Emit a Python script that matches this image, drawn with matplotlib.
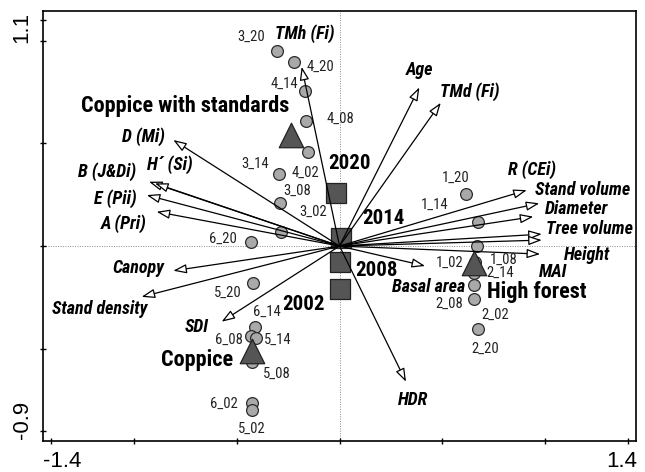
import matplotlib.pyplot as plt
import matplotlib.transforms as mtransforms

# site scores (stand_year)
site_names = ['3_20', '4_20', '4_14', '4_08', '4_02', '3_14', '3_08', '3_02',
              '6_20', '5_20', '6_14', '6_08', '5_14', '5_08', '6_02', '5_02',
              '1_20', '1_14', '1_08', '1_02', '2_14', '2_02', '2_08', '2_20']
site_x = [-0.305, -0.221, -0.168, -0.163, -0.152, -0.293, -0.289, -0.286,
          -0.432, -0.419, -0.411, -0.432, -0.406, -0.427, -0.427, -0.427,
          0.614, 0.675, 0.667, 0.659, 0.654, 0.654, 0.654, 0.672]
site_y = [0.950, 0.897, 0.754, 0.608, 0.456, 0.350, 0.211, 0.067,
          0.021, -0.179, -0.393, -0.438, -0.449, -0.563, -0.765, -0.798,
          0.252, 0.118, 0.000, -0.078, -0.133, -0.190, -0.260, -0.405]
# where each site name is written
site_label_x = [-0.427, -0.095, -0.270, 0.002, -0.168, -0.411, -0.205, -0.130,
                -0.565, -0.544, -0.354, -0.536, -0.298, -0.305, -0.561, -0.427,
                0.566, 0.464, 0.800, 0.534, 0.780, 0.759, 0.534, 0.707]
site_label_y = [1.019, 0.872, 0.787, 0.618, 0.354, 0.398, 0.269, 0.164,
                0.033, -0.227, -0.320, -0.454, -0.454, -0.623, -0.770, -0.887,
                0.334, 0.200, -0.066, -0.084, -0.132, -0.336, -0.279, -0.498]

# management centroids (triangles)
mgmt_names = ['Coppice with standards', 'Coppice', 'High forest']
mgmt_x = [-0.236, -0.427, 0.654]
mgmt_y = [0.540, -0.510, -0.083]
mgmt_label_x = [-0.748, -0.694, 0.959]
mgmt_label_y = [0.681, -0.555, -0.222]

# year centroids (squares)
year_names = ['2020', '2014', '2008', '2002']
year_x = [-0.017, 0.007, 0.002, 0.002]
year_y = [0.256, 0.037, -0.076, -0.209]
year_label_x = [0.048, 0.213, 0.181, -0.176]
year_label_y = [0.402, 0.135, -0.117, -0.282]

# variable arrows
var_names = ['TMh (Fi)', 'Age', 'TMd (Fi)', 'R (CEi)', 'Stand volume', 'Diameter',
             'Tree volume', 'MAI', 'Height', 'Basal area', 'HDR', 'D (Mi)',
             'B (J&Di)', 'H\u00b4 (Si)', 'E (Pii)', 'A (Pri)', 'Canopy',
             'Stand density', 'SDI']
var_x = [-0.184, 0.388, 0.492, 0.910, 0.971, 0.942, 0.983, 0.983, 0.975, 0.416,
         0.323, -0.808, -0.926, -0.897, -0.937, -0.889, -0.808, -0.962, -0.573]
var_y = [0.872, 0.772, 0.697, 0.272, 0.208, 0.143, 0.058, 0.029, -0.039, -0.097,
         -0.660, 0.516, 0.313, 0.305, 0.248, 0.167, -0.120, -0.247, -0.368]
var_label_x = [-0.168, 0.391, 0.634, 0.934, 1.180, 1.153, 1.214, 1.039, 1.202, 0.432,
               0.359, -0.954, -1.132, -0.824, -1.091, -1.051, -0.978, -1.164, -0.694]
var_label_y = [1.036, 0.856, 0.751, 0.370, 0.272, 0.179, 0.083, -0.125, -0.044, -0.198,
               -0.749, 0.532, 0.362, 0.394, 0.229, 0.107, -0.109, -0.307, -0.393]

narrow = ['Roboto Condensed', 'Liberation Sans', 'DejaVu Sans']
plt.rcParams['font.family'] = ['Liberation Sans', 'DejaVu Sans']

fig = plt.figure(figsize=(6.45, 4.72), dpi=100)
ax = fig.add_axes([0.0667, 0.0663, 0.9194, 0.911])

ax.axhline(0, color='#888888', lw=0.7, ls=(0, (1, 1.5)), zorder=1)
ax.axvline(0, color='#888888', lw=0.7, ls=(0, (1, 1.5)), zorder=1)

ax.scatter(site_x, site_y, s=72, c='#a9a9a9', edgecolors='#2a2a2a',
           linewidths=0.9, zorder=3)
ax.scatter(year_x, year_y, s=190, marker='s', c='#555555', edgecolors='#222222',
           linewidths=0.9, zorder=4)
ax.scatter(mgmt_x, mgmt_y, s=310, marker='^', c='#555555', edgecolors='#222222',
           linewidths=0.9, zorder=4)

for vx, vy in zip(var_x, var_y):
    ax.annotate('', xy=(vx, vy), xytext=(0, 0),
                arrowprops=dict(arrowstyle='-|>,head_length=0.8,head_width=0.28',
                                fc='white', ec='black', lw=0.9,
                                shrinkA=0, shrinkB=0, mutation_scale=10),
                zorder=5)

for name, lx, ly in zip(site_names, site_label_x, site_label_y):
    ax.text(lx, ly, name, fontsize=10.5, family=narrow, color='#222222',
            ha='center', va='center', zorder=6)
for name, lx, ly in zip(var_names, var_label_x, var_label_y):
    ax.text(lx, ly, name, fontsize=13, family=narrow, fontweight='bold',
            fontstyle='italic', ha='center', va='center', zorder=6)
for name, lx, ly in zip(year_names, year_label_x, year_label_y):
    ax.text(lx, ly, name, fontsize=15, family=narrow, fontweight='bold',
            ha='center', va='center', zorder=6)
for name, lx, ly in zip(mgmt_names, mgmt_label_x, mgmt_label_y):
    ax.text(lx, ly, name, fontsize=16, family=narrow, fontweight='bold',
            ha='center', va='center', zorder=6)

ax.set_xlim(-1.441, 1.441)
ax.set_ylim(-0.947, 1.145)
ax.set_xticks([-1.4, -1, -0.5, 0, 0.5, 1, 1.4])
ax.set_xticklabels(['-1.4', '', '', '', '', '', '1.4'])
ax.set_yticks([-0.9, -0.5, 0, 0.5, 1, 1.1])
ax.set_yticklabels(['-0.9', '', '', '', '', '1.1'], rotation=90, va='center')
ax.tick_params(direction='inout', length=5, width=1, labelsize=16, pad=5)
for sp in ax.spines.values():
    sp.set_linewidth(1.2)

# end labels sit a little inward from their ticks
xl = ax.get_xticklabels()
yl = ax.get_yticklabels()
shifts = [(xl[0], 0.11, 0), (xl[-1], -0.06, 0), (yl[0], 0, 0.11), (yl[-1], 0, -0.07)]
for lab, dx, dy in shifts:
    lab.set_transform(lab.get_transform() +
                      mtransforms.ScaledTranslation(dx, dy, fig.dpi_scale_trans))

fig.savefig('out.png', dpi=100)
